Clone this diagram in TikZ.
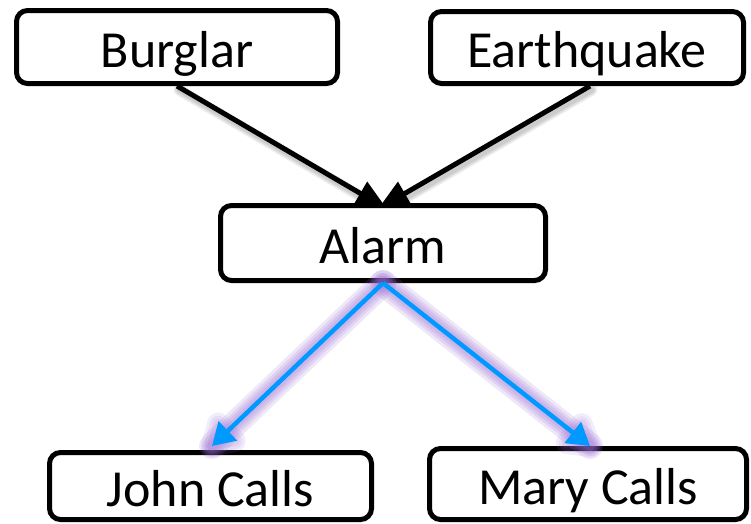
\documentclass[tikz,border=0pt]{standalone}
\usepackage{fontspec}
\setmainfont{Carlito}
\usetikzlibrary{arrows.meta,calc}
\definecolor{callblue}{RGB}{0,153,255}
\definecolor{glowviolet}{RGB}{150,105,210}

\begin{document}
\begin{tikzpicture}[x=1pt,y=-1pt,
  box/.style={draw=black, line width=5pt, rounded corners=11pt, fill=white,
    inner sep=0pt, font=\fontsize{52}{60}\selectfont, text height=40pt, text depth=0pt},
  cause/.style={draw=black, line width=5pt, -{Triangle[length=31pt,width=26pt]}},
  dropshade/.style={draw=black, line width=#1, draw opacity=0.07, line cap=round},
  link/.style={draw=callblue, line width=4.5pt, -{Triangle[length=22pt,width=26pt]}},
  haze/.style={draw=glowviolet, line width=#1, draw opacity=0.16, line cap=round, line join=round},
  tiphaze/.style={draw=glowviolet, line width=#1, draw opacity=0.12, line cap=round, line join=round},
]
\useasboundingbox (0,0) rectangle (751,523);

% parents
\node[box, minimum width=321pt, minimum height=73pt] (burglar) at (177,47) {Burglar};
\node[box, minimum width=313pt, minimum height=72pt] (quake) at (587,47.5) {Earthquake};

% arrow ends hidden inside the alarm box
\coordinate (bEnd) at (387,209);
\coordinate (qEnd) at (378,209);
\coordinate (jEnd) at (212,446);
\coordinate (mEnd) at (590,446);

% soft shadows under the black arrows
\begin{scope}[transform canvas={xshift=2pt,yshift=-4pt}]
  \foreach \w in {11pt,8pt,5pt} {
    \draw[dropshade=\w] (burglar.south) -- (bEnd);
    \draw[dropshade=\w] (quake.south -| 590,0) -- (qEnd);
  }
\end{scope}

% causal links into the alarm
\draw[cause] (burglar.south) -- (bEnd);
\draw[cause] (quake.south -| 590,0) -- (qEnd);

% alarm and children
\node[box, minimum width=325pt, minimum height=75pt] (alarm) at (383,243) {Alarm};
\node[box, minimum width=322pt, minimum height=67pt] (john) at (210.5,486) {John Calls};
\node[box, minimum width=317pt, minimum height=71pt] (mary) at (588,484) {Mary Calls};

% arrowhead outlines used for the glow
\coordinate (jBack) at ($(jEnd)!20pt!(alarm.south)$);
\coordinate (mBack) at ($(mEnd)!20pt!(alarm.south)$);

% violet glow around the blue links
\foreach \w in {26pt,20pt,15pt,10pt} {
  \draw[haze=\w] (alarm.south) -- (jEnd);
  \draw[haze=\w] (alarm.south) -- (mEnd);
}
\foreach \w in {22pt,16pt,10pt} {
  \draw[tiphaze=\w] (jEnd) -- ($(jBack)!12pt!90:(jEnd)$) -- ($(jBack)!12pt!-90:(jEnd)$) -- cycle;
  \draw[tiphaze=\w] (mEnd) -- ($(mBack)!12pt!90:(mEnd)$) -- ($(mBack)!12pt!-90:(mEnd)$) -- cycle;
}

% blue links from the alarm
\draw[link] (alarm.south) -- (jEnd);
\draw[link] (alarm.south) -- (mEnd);
\end{tikzpicture}
\end{document}
